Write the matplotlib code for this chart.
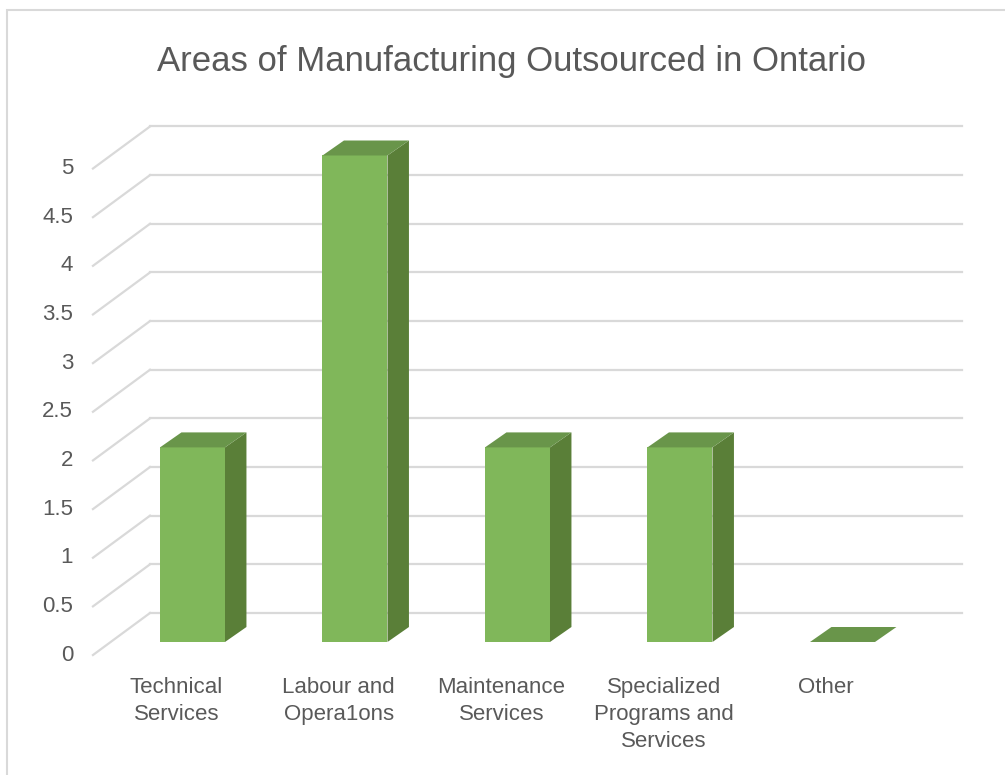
import matplotlib
matplotlib.use("Agg")
import matplotlib.pyplot as plt
from matplotlib.patches import Polygon, Rectangle

categories = ["Technical\nServices", "Labour and\nOpera1ons", "Maintenance\nServices",
              "Specialized\nPrograms and\nServices", "Other"]
values = [2, 5, 2, 2, 0]
grid_values = [0, 0.5, 1, 1.5, 2, 2.5, 3, 3.5, 4, 4.5, 5]
tick_labels = ["0", "0.5", "1", "1.5", "2", "2.5", "3", "3.5", "4", "4.5", "5"]
title = "Areas of Manufacturing Outsourced in Ontario"

front = "#80b75a"
side = "#5a7f38"
top = "#69954a"
grid_c = "#d9d9d9"
text_c = "#595959"

# 3d look (data units)
bar_w = 0.4
dx, dy = 0.132, 0.154          # bar depth
back_dx, back_dy = 0.24, 0.298  # back wall offset
front_dx, front_dy = -0.111, -0.134  # front edge of floor
grid_x0, grid_x1 = -0.2615, 4.735

fig = plt.figure(figsize=(10.05, 7.75), dpi=100)
ax = fig.add_axes([0, 0, 1, 1])
ax.set_xlim(-1.1846, 5.0)
ax.set_ylim(-1.367, 6.598)
ax.axis("off")

# frame
fig.patches.append(Rectangle((0.007, -0.05), 1.1, 1.037, transform=fig.transFigure,
                             fill=False, edgecolor="#d9d9d9", linewidth=1.5))

for v, lab in zip(grid_values, tick_labels):
    ax.plot([grid_x0, grid_x1], [v + back_dy, v + back_dy], color=grid_c, lw=1.6, zorder=1)
    ax.plot([grid_x0 + front_dx - back_dx, grid_x0], [v + front_dy, v + back_dy],
            color=grid_c, lw=1.6, zorder=1)
    ax.text(-0.735, v + front_dy, lab, ha="right", va="center", fontsize=16,
            color=text_c, family="Liberation Sans")

xs = list(range(len(values)))
ax.bar(xs, values, width=bar_w, color=front, zorder=3, linewidth=0)
for x, v in zip(xs, values):
    r = x + bar_w / 2
    l = x - bar_w / 2
    if v > 0:
        ax.add_patch(Polygon([(r, 0), (r + dx, dy), (r + dx, v + dy), (r, v)],
                             closed=True, color=side, lw=0, zorder=3))
    ax.add_patch(Polygon([(l, v), (r, v), (r + dx, v + dy), (l + dx, v + dy)],
                         closed=True, color=top, lw=0, zorder=3))

for x, lab in zip(xs, categories):
    ax.text(x - 0.1, -0.36, lab, ha="center", va="top", fontsize=16, color=text_c,
            family="Liberation Sans", linespacing=1.38)

fig.text(0.509, 0.92, title, ha="center", va="center", fontsize=25, color=text_c,
         family="Liberation Sans")

fig.savefig("out.png", dpi=100)
